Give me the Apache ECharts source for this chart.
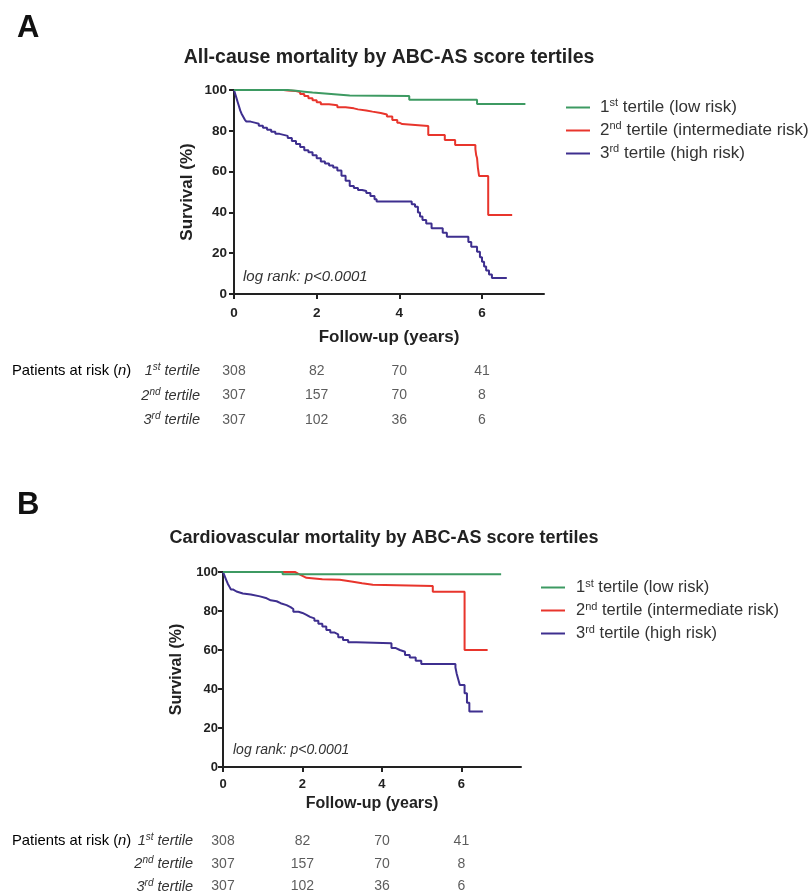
<!DOCTYPE html>
<html><head><meta charset="utf-8">
<script src="https://cdn.jsdelivr.net/npm/echarts@6/dist/echarts.min.js"></script>
<style>html,body{margin:0;padding:0;background:#fff}#c{width:812px;height:895px}</style>
</head><body><div id="c"></div>
<script>
// ---------- DATA ----------
const seriesNames = ['1st tertile (low risk)', '2nd tertile (intermediate risk)', '3rd tertile (high risk)'];
const xTickValues = [0, 2, 4, 6];
const riskRowLabels = ['1st tertile', '2nd tertile', '3rd tertile'];
const riskTimes = [0, 2, 4, 6];

// Panel A: all-cause mortality (time in years, survival %)
const greenA = [[0,100],[1.3,99.6],[1.5,99.2],[1.7,98.8],[1.9,98.3],[2.2,97.8],[2.5,97.3],[2.8,97],[4.24,95.2],[5.88,93.1],[7.05,93.1]];
const redA = [[0,100],[1.2,99.7],[1.3,99.5],[1.5,99],[1.6,98],[1.7,97],[1.8,96],[1.9,95],[2.0,94],[2.1,93],[2.3,92.5],[2.5,91.5],[2.7,91],[2.9,90.5],[3.0,90],[3.2,89.4],[3.35,88.7],[3.55,88],[3.7,87],[3.83,85.3],[3.95,84],[4.0,83.3],[4.07,82.4],[4.7,78],[5.1,75.5],[5.35,73],[5.84,71],[5.86,68],[5.88,66.7],[5.9,62],[5.93,57.8],[6.15,38.7],[6.73,38.7]];
const blueA = [[0,100],[0.03,98],[0.06,96],[0.09,94],[0.12,92],[0.15,90],[0.18,88.5],[0.22,87],[0.26,85.5],[0.3,84.5],[0.4,84],[0.5,83.5],[0.6,82.5],[0.7,81.5],[0.8,80.5],[0.9,79.5],[1.0,78.5],[1.1,78],[1.2,77.5],[1.3,76.5],[1.4,75],[1.5,73.5],[1.6,72],[1.7,70.5],[1.8,69.5],[1.9,68],[2.0,66.5],[2.1,65],[2.2,64],[2.3,63],[2.4,62],[2.5,60.5],[2.6,58],[2.7,55.5],[2.8,53],[2.9,52],[3.0,51],[3.1,50.5],[3.2,49.5],[3.3,48],[3.4,46.5],[3.45,45.3],[4.3,44],[4.38,42.8],[4.45,40],[4.5,38],[4.56,36.3],[4.65,34.5],[4.78,32.2],[5.05,30],[5.15,28.1],[5.67,25.5],[5.74,23.2],[5.88,20.7],[5.95,18],[6.0,15.8],[6.05,13.5],[6.1,11.5],[6.17,9.5],[6.24,7.8],[6.6,7.8]];

// Panel B: cardiovascular mortality
const greenB = [[0,100],[1.5,98.8],[7.0,98.8]];
const redB = [[0,100],[1.81,99],[1.9,98],[2.0,97],[2.1,96.3],[2.5,96],[2.94,95],[3.27,94.2],[3.5,93.5],[3.77,92.8],[5.28,89.9],[6.08,60],[6.66,60]];
const blueB = [[0,100],[0.04,98],[0.08,96],[0.12,94],[0.16,92.5],[0.2,91],[0.26,90],[0.34,89],[0.5,88.5],[0.7,87.5],[0.93,86.5],[1.1,85.5],[1.2,85],[1.35,84],[1.45,83],[1.6,82],[1.7,81],[1.77,79.6],[1.9,79],[2.0,78],[2.1,77],[2.19,76.2],[2.3,75],[2.4,73.5],[2.5,72],[2.6,70.3],[2.7,69],[2.8,68],[2.9,66.5],[3.02,65.1],[3.15,64],[3.36,63.4],[4.24,61],[4.35,60],[4.45,59.1],[4.58,57.5],[4.7,56.2],[4.85,54.5],[4.99,52.8],[5.85,51],[5.88,48],[5.92,45],[5.96,42.1],[6.08,37.8],[6.14,33],[6.2,28.4],[6.54,28.4]];

// Patients at risk (n)
const riskA1 = [308, 82, 70, 41];
const riskA2 = [307, 157, 70, 8];
const riskA3 = [307, 102, 36, 6];
const riskB1 = [308, 82, 70, 41];
const riskB2 = [307, 157, 70, 8];
const riskB3 = [307, 102, 36, 6];

const titleA = 'All-cause mortality by ABC-AS score tertiles';
const titleB = 'Cardiovascular mortality by ABC-AS score tertiles';
const logRankText = 'log rank: p<0.0001';

// ---------- STYLE ----------
const FONT = '"Liberation Sans", Arial, sans-serif';
const colors = ['#3d9a62', '#e8352c', '#3e2f8f'];
const axisColor = '#222';
const textColor = '#333';

function supRich(name) {
  const m = name.match(/^(\d)(st|nd|rd)(.*)$/);
  return '{n|' + m[1] + '}{s|' + m[2] + '}{t|' + m[3] + '}';
}
function riskData(vals, row) {
  return vals.map((v, i) => [riskTimes[i], riskRowLabels[row], v]);
}

const panels = [
  {grid: {left: 234, top: 90, width: 310, height: 204}, risk: {top: 371, height: 49}, curves: [greenA, redA, blueA], risks: [riskA1, riskA2, riskA3],
   legend: {left: 566, top: 97.5, fs: 17, lh: 20, pad: 5}, tickFs: 13.5, nameFs: 17, xNameGap: 35, yNameGap: 38, xLabMargin: 12, yLabMargin: 7, rowMargin: 34},
  {grid: {left: 223, top: 572, width: 298, height: 195}, risk: {top: 841, height: 46}, curves: [greenB, redB, blueB], risks: [riskB1, riskB2, riskB3],
   legend: {left: 541, top: 578, fs: 16.5, lh: 19, pad: 6}, tickFs: 13, nameFs: 16, xNameGap: 29, yNameGap: 38, xLabMargin: 11, yLabMargin: 5, rowMargin: 30}
];

const grid = [], xAxis = [], yAxis = [], series = [], legend = [];
panels.forEach((p, pi) => {
  grid.push(Object.assign({}, p.grid));
  grid.push({left: p.grid.left, width: p.grid.width, top: p.risk.top, height: p.risk.height});
  const gi = pi * 2;
  xAxis.push({
    gridIndex: gi, type: 'value', min: 0, max: 7.5,
    name: 'Follow-up (years)', nameLocation: 'middle', nameGap: p.xNameGap,
    nameTextStyle: {fontFamily: FONT, fontWeight: 'bold', fontSize: p.nameFs, color: axisColor},
    axisLine: {show: true, onZero: false, lineStyle: {color: axisColor, width: 2}},
    axisTick: {show: true, length: 5, lineStyle: {color: axisColor, width: 2}, customValues: xTickValues},
    axisLabel: {customValues: xTickValues, fontFamily: FONT, fontWeight: 'bold', fontSize: p.tickFs, color: axisColor, margin: p.xLabMargin},
    splitLine: {show: false}
  });
  yAxis.push({
    gridIndex: gi, type: 'value', min: 0, max: 100, interval: 20,
    name: 'Survival (%)', nameLocation: 'middle', nameGap: p.yNameGap,
    nameTextStyle: {fontFamily: FONT, fontWeight: 'bold', fontSize: p.nameFs, color: axisColor},
    axisLine: {show: true, onZero: false, lineStyle: {color: axisColor, width: 2}},
    axisTick: {show: true, length: 5, lineStyle: {color: axisColor, width: 2}},
    axisLabel: {fontFamily: FONT, fontWeight: 'bold', fontSize: p.tickFs, color: axisColor, margin: p.yLabMargin},
    splitLine: {show: false}
  });
  xAxis.push({gridIndex: gi + 1, type: 'value', min: 0, max: 7.5, show: false});
  yAxis.push({
    gridIndex: gi + 1, type: 'category', data: riskRowLabels, inverse: true, boundaryGap: false,
    axisLine: {show: false}, axisTick: {show: false}, splitLine: {show: false},
    axisLabel: {
      margin: p.rowMargin,
      formatter: v => supRich(v),
      rich: {
        n: {fontFamily: FONT, fontStyle: 'italic', fontSize: 14.5, color: textColor, lineHeight: 17},
        s: {fontFamily: FONT, fontStyle: 'italic', fontSize: 10, color: textColor, verticalAlign: 'top', lineHeight: 10, padding: [0, 0, 7, 0]},
        t: {fontFamily: FONT, fontStyle: 'italic', fontSize: 14.5, color: textColor, lineHeight: 17}
      }
    }
  });
  p.curves.forEach((c, ci) => {
    series.push({
      name: seriesNames[ci], type: 'line', step: 'end', data: c,
      xAxisIndex: gi, yAxisIndex: gi, showSymbol: false, symbol: 'none',
      lineStyle: {color: colors[ci], width: 2}, itemStyle: {color: colors[ci]},
      animation: false, z: 5 - ci
    });
  });
  p.risks.forEach((r, ri) => {
    series.push({
      type: 'scatter', xAxisIndex: gi + 1, yAxisIndex: gi + 1, data: riskData(r, ri),
      symbolSize: 1, itemStyle: {color: 'rgba(0,0,0,0)'}, silent: true, animation: false,
      label: {show: true, position: 'inside', formatter: d => String(d.value[2]), fontFamily: FONT, fontSize: 14, color: textColor}
    });
  });
  const L = p.legend;
  legend.push({
    orient: 'vertical', left: L.left, top: L.top, padding: 0,
    data: seriesNames, itemWidth: 24, itemHeight: 2, itemGap: 4, icon: 'rect',
    selectedMode: false,
    formatter: n => supRich(n),
    textStyle: {
      padding: [0, 0, 0, L.pad],
      rich: {
        n: {fontFamily: FONT, fontSize: L.fs, color: textColor, lineHeight: L.lh},
        s: {fontFamily: FONT, fontSize: Math.round(L.fs * 0.65), color: textColor, verticalAlign: 'top', lineHeight: 11, padding: [0, 0, 8, 0]},
        t: {fontFamily: FONT, fontSize: L.fs, color: textColor, lineHeight: L.lh}
      }
    }
  });
});

const bigLetter = {fontFamily: FONT, fontWeight: 'bold', fontSize: 31, fill: '#111'};
const riskTitle = (y) => ({type: 'text', x: 12, y: y, style: {text: '{a|Patients at risk (}{b|n}{a|)}', verticalAlign: 'middle',
  rich: {a: {fontFamily: FONT, fontSize: 14.8, color: textColor}, b: {fontFamily: FONT, fontSize: 14.8, fontStyle: 'italic', color: textColor}}}});
const graphic = [
  {type: 'text', left: 17, top: 13, style: Object.assign({text: 'A'}, bigLetter)},
  {type: 'text', left: 17, top: 490, style: Object.assign({text: 'B'}, bigLetter)},
  {type: 'text', x: 389, y: 58, style: {text: titleA, fontFamily: FONT, fontWeight: 'bold', fontSize: 19.5, fill: '#222', align: 'center', verticalAlign: 'middle'}},
  {type: 'text', x: 384, y: 538, style: {text: titleB, fontFamily: FONT, fontWeight: 'bold', fontSize: 18, fill: '#222', align: 'center', verticalAlign: 'middle'}},
  {type: 'text', x: 243, y: 277, style: {text: logRankText, fontFamily: FONT, fontStyle: 'italic', fontSize: 15, fill: textColor, verticalAlign: 'middle'}},
  {type: 'text', x: 233, y: 750, style: {text: logRankText, fontFamily: FONT, fontStyle: 'italic', fontSize: 14, fill: textColor, verticalAlign: 'middle'}},
  riskTitle(371),
  riskTitle(841)
];

const chart = echarts.init(document.getElementById('c'), null, {renderer: 'canvas'});
chart.setOption({backgroundColor: '#fff', animation: false, grid, xAxis, yAxis, series, legend, graphic});
</script>
</body></html>
